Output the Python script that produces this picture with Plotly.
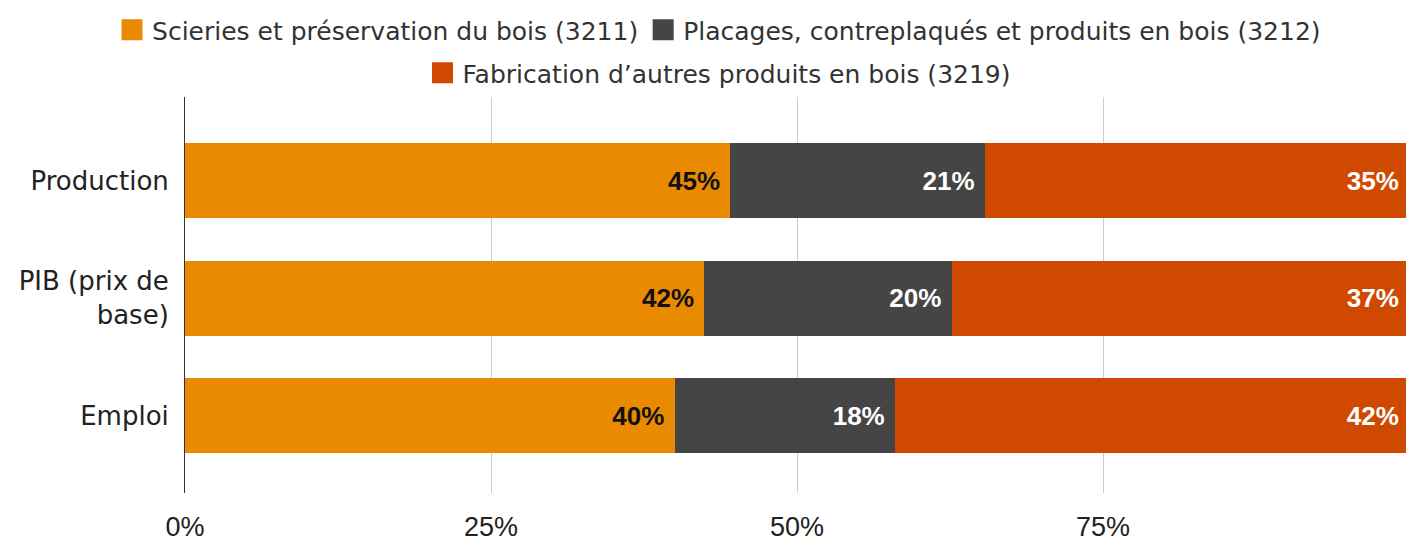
import plotly.graph_objects as go

categories = ["Production", "PIB (prix de<br>base)", "Emploi"]
series_names = [
    "Scieries et préservation du bois (3211)",
    "Placages, contreplaqués et produits en bois (3212)",
    "Fabrication d’autres produits en bois (3219)",
]
scieries = [45, 42, 40]
placages = [21, 20, 18]
autres = [35, 37, 42]
tick_vals = [0, 25, 50, 75]
tick_text = ["0%", "25%", "50%", "75%"]

colors = ["#E98A00", "#454545", "#CF4A00"]
label_colors = ["#111111", "#FFFFFF", "#FFFFFF"]
legends = ["legend", "legend", "legend2"]
FONT = "Liberation Sans"
WIDE_FONT = "DejaVu Sans"
W, H = 1406, 541

fig = go.Figure()
for name, vals, col, lcol in zip(series_names, [scieries, placages, autres],
                                 colors, label_colors):
    fig.add_trace(go.Bar(
        y=categories,
        x=vals,
        name=name,
        orientation="h",
        marker=dict(color=col, line=dict(width=0)),
        text=[f"{v}%\u00a0" for v in vals],
        textposition="inside",
        insidetextanchor="end",
        textangle=0,
        textfont=dict(color=lcol, size=26, family=FONT, weight="bold"),
        showlegend=False,
        hoverinfo="x+y+name",
    ))

# legend entries (bigger square swatches than the default bar icon)
for name, col, leg in zip(series_names, colors, legends):
    fig.add_trace(go.Scatter(
        x=[None], y=[None],
        mode="markers",
        name=name,
        marker=dict(symbol="square", size=16, color=col,
                    line=dict(color=col, width=5)),
        legend=leg,
        showlegend=True,
    ))

fig.update_layout(
    barmode="stack",
    barnorm="percent",
    bargap=0.362,
    width=W,
    height=H,
    margin=dict(l=185, r=0, t=97, b=48),
    plot_bgcolor="white",
    paper_bgcolor="white",
    font=dict(family=FONT, size=27, color="#222222"),
    legend=dict(
        orientation="h", xref="container", yref="container",
        x=0.5114, xanchor="center", y=1 - 30 / H, yanchor="middle",
        traceorder="normal",
        font=dict(size=25, family=WIDE_FONT, color="#333333"), itemclick=False,
    ),
    legend2=dict(
        orientation="h", xref="container", yref="container",
        x=0.5114, xanchor="center", y=1 - 73 / H, yanchor="middle",
        traceorder="normal",
        font=dict(size=25, family=WIDE_FONT, color="#333333"), itemclick=False,
    ),
)
fig.update_xaxes(
    range=[0, 99.75],
    tickvals=tick_vals,
    ticktext=tick_text,
    showgrid=True,
    gridcolor="#CCCCCC",
    zeroline=False,
    ticklabelstandoff=15,
    tickfont=dict(size=27, color="#222222"),
)
fig.update_yaxes(
    autorange=False,
    range=[2.659, -0.711],
    showline=True,
    linecolor="#333333",
    linewidth=1,
    ticklabelstandoff=10,
    tickfont=dict(size=26, family=WIDE_FONT, color="#222222"),
)

# page body has a default 8px margin; drop it so the figure fills the window
fig.write_html(
    "out.html",
    config={"displayModeBar": False},
    post_script="document.body.style.margin='0';document.body.style.overflow='hidden';",
)
